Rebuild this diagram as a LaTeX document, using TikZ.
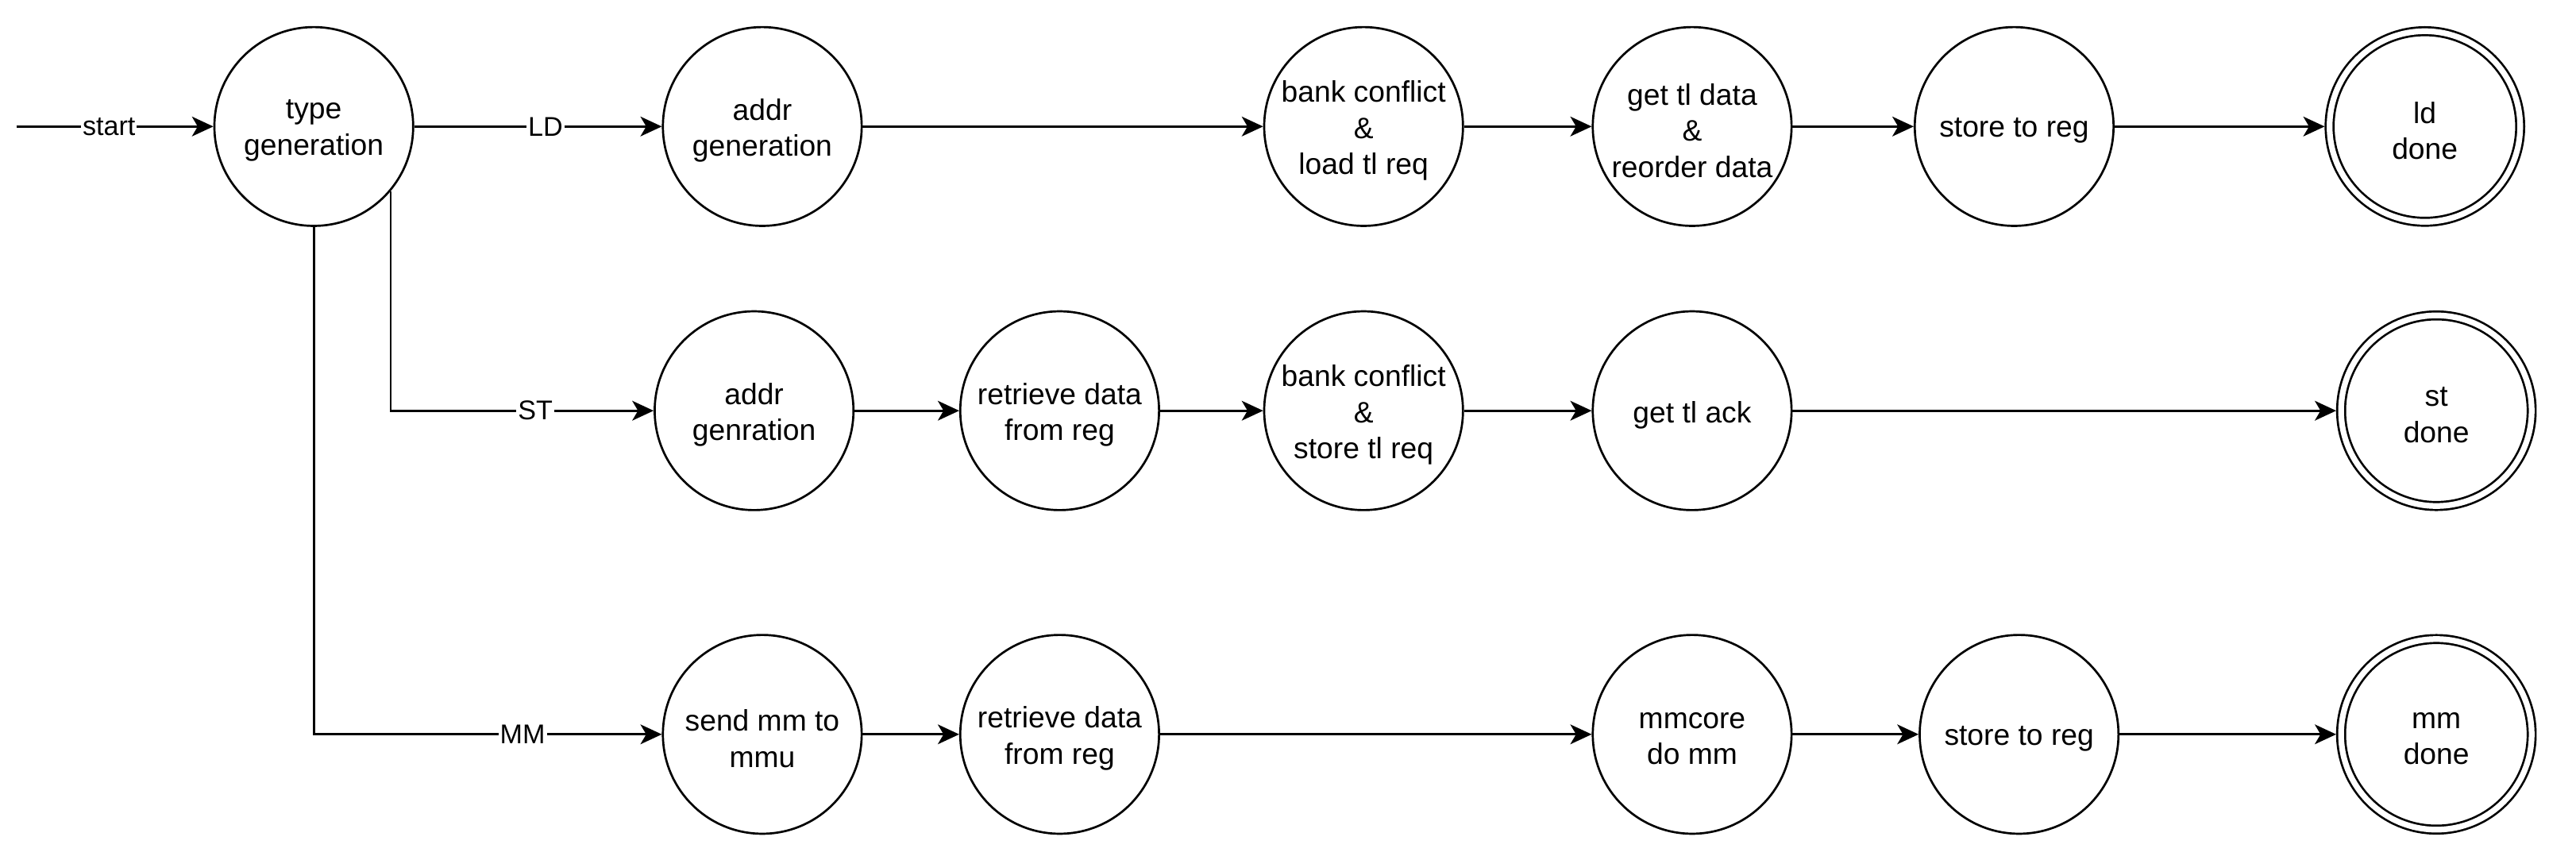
\documentclass[tikz,border=0pt]{standalone}
\usepackage{fontspec}
\setmainfont{Liberation Sans}
\usetikzlibrary{arrows.meta}
\begin{document}
\begin{tikzpicture}[x=1pt,y=-1pt,
  state/.style={circle, draw, line width=1.3pt, minimum size=121pt, inner sep=0pt},
  final/.style={state, double, double distance=3.5pt, minimum size=116pt, outer sep=3pt},
  txt/.style={align=center, inner sep=0pt, yshift=-2.5pt, font=\fontsize{18}{22}\selectfont},
  conn/.style={-{Stealth[length=13pt,width=12pt,inset=3.5pt]}, line width=1.3pt},
  elabel/.style={fill=white, inner sep=1pt, font=\fontsize{16.5}{19}\selectfont}]
\useasboundingbox (0,0) rectangle (1568,521);
% row 1
\node[state, label={[txt]center:{type\\generation}}] (tg) at (191,77) {};
\node[state, label={[txt]center:{addr\\generation}}] (ag) at (464,77) {};
\node[state, label={[txt]center:{bank conflict\\\&\\load tl req}}] (b1) at (830,77) {};
\node[state, label={[txt]center:{get tl data\\\&\\reorder data}}] (g1) at (1030,77) {};
\node[state, label={[txt]center:{store to reg}}] (s1) at (1226,77) {};
\node[final, label={[txt]center:{ld\\done}}] (ld) at (1476,77) {};
% row 2
\node[state, label={[txt]center:{addr\\genration}}] (as) at (459,250) {};
\node[state, label={[txt]center:{retrieve data\\from reg}}] (r2) at (645,250) {};
\node[state, label={[txt]center:{bank conflict\\\&\\store tl req}}] (b2) at (830,250) {};
\node[state, label={[txt]center:{get tl ack}}] (g2) at (1030,250) {};
\node[final, label={[txt]center:{st\\done}}] (st) at (1483,250) {};
% row 3
\node[state, label={[txt]center:{send mm to\\mmu}}] (sm) at (464,447) {};
\node[state, label={[txt]center:{retrieve data\\from reg}}] (r3) at (645,447) {};
\node[state, label={[txt]center:{mmcore\\do mm}}] (mc) at (1030,447) {};
\node[state, label={[txt]center:{store to reg}}] (s3) at (1229,447) {};
\node[final, label={[txt]center:{mm\\done}}] (mm) at (1483,447) {};
% connectors
\coordinate (s0) at (10,77);
\draw[conn] (s0) -- node[elabel,pos=0.47]{start} (tg);
\draw[conn] (tg) -- node[elabel,pos=0.53]{LD} (ag);
\draw[conn] (tg.-40) |- node[elabel,pos=0.775]{ST} (as);
\draw[conn] (tg.south) |- node[elabel,pos=0.8]{MM} (sm);
\draw[conn] (ag) -- (b1);
\draw[conn] (b1) -- (g1);
\draw[conn] (g1) -- (s1);
\draw[conn] (s1) -- (ld);
\draw[conn] (as) -- (r2);
\draw[conn] (r2) -- (b2);
\draw[conn] (b2) -- (g2);
\draw[conn] (g2) -- (st);
\draw[conn] (sm) -- (r3);
\draw[conn] (r3) -- (mc);
\draw[conn] (mc) -- (s3);
\draw[conn] (s3) -- (mm);
\end{tikzpicture}
\end{document}
